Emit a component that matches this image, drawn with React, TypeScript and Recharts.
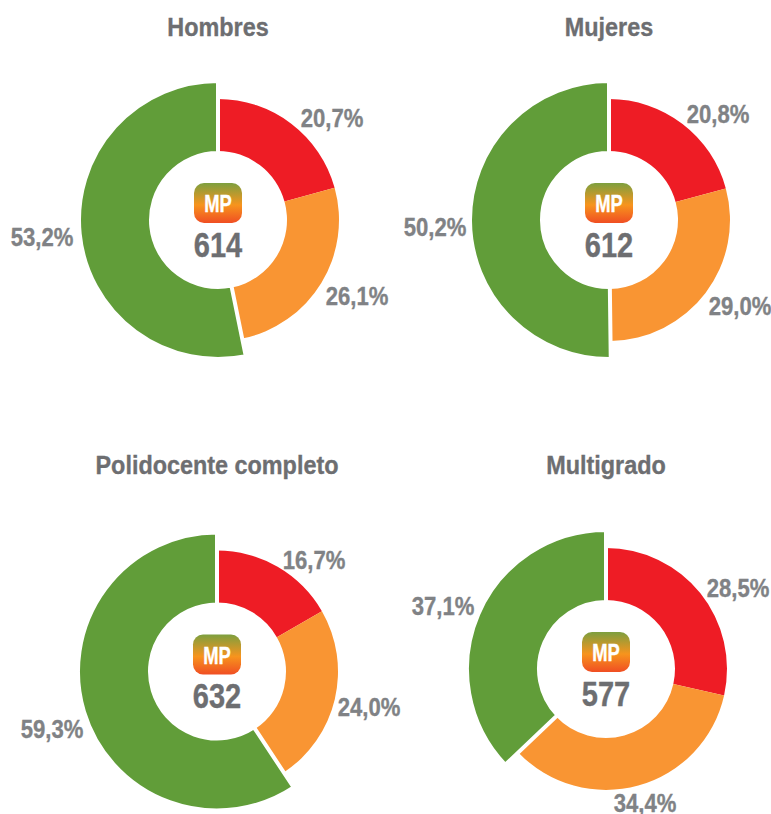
import { Pie, PieChart, Sector } from "recharts";

const categories = ["Bajo", "Medio", "Alto"];
const titles = ["Hombres", "Mujeres", "Polidocente completo", "Multigrado"];
const scores = [614, 612, 632, 577];
const hombres = [20.7, 26.1, 53.2];
const mujeres = [20.8, 29.0, 50.2];
const polidocente = [16.7, 24.0, 59.3];
const multigrado = [28.5, 34.4, 37.1];

const COLORS = ["#ee1c25", "#f99533", "#619d39"];
const FONT = "'Liberation Sans', sans-serif";

const toRows = (values: number[]) =>
  values.map((value, i) => ({ name: categories[i], value, fill: COLORS[i] }));

// cx, cy, title y, and where each percentage sits relative to the centre
const panels = [
  { values: hombres, cx: 218, cy: 220, titleY: 27, labels: [[114, -102], [139, 76], [-176, 17]] },
  { values: mujeres, cx: 609, cy: 220, titleY: 27, labels: [[109, -106], [131, 86], [-174, 7]] },
  { values: polidocente, cx: 217, cy: 671.5, titleY: 465, labels: [[97, -112], [152, 35], [-165, 57]] },
  { values: multigrado, cx: 606, cy: 669, titleY: 465, labels: [[132, -81], [39, 134], [-163, -63]] },
];

const renderSector = (props: any) => {
  if (props.name === categories[2]) {
    return <Sector {...props} innerRadius={67} outerRadius={139} stroke="#fff" strokeWidth={4} />;
  }
  return <Sector {...props} innerRadius={69} outerRadius={121} stroke="none" />;
};

// no narrow face installed, so squeeze the bold one horizontally
function Narrow({ x, y, size, fill, squeeze = 0.85, children }: any) {
  return (
    <text
      transform={`translate(${x} ${y}) scale(${squeeze} 1)`}
      textAnchor="middle"
      dominantBaseline="central"
      fontFamily={FONT}
      fontWeight={700}
      fontSize={size}
      fill={fill}
      stroke={fill}
      strokeWidth={0.35}
    >
      {children}
    </text>
  );
}

export default function App() {
  return (
    <div style={{ position: "absolute", left: 0, top: 0 }}>
      <PieChart width={771} height={814} margin={{ top: 0, right: 0, bottom: 0, left: 0 }}>
        <defs>
          <linearGradient id="badge" x1="0" y1="0" x2="0" y2="1">
            <stop offset="0%" stopColor="#7d9f3f" />
            <stop offset="55%" stopColor="#f7941d" />
            <stop offset="100%" stopColor="#f04e23" />
          </linearGradient>
        </defs>
        {panels.map((p, n) => (
          <Pie
            key={titles[n]}
            data={toRows(p.values)}
            dataKey="value"
            nameKey="name"
            cx={p.cx}
            cy={p.cy}
            innerRadius={69}
            outerRadius={121}
            startAngle={90}
            endAngle={-270}
            stroke="none"
            shape={renderSector}
            labelLine={false}
            isAnimationActive={false}
            label={({ index, value }: any) => (
              <Narrow
                x={p.cx + p.labels[index][0]}
                y={p.cy + p.labels[index][1]}
                size={26}
                squeeze={0.85}
                fill="#808285"
              >
                {value.toFixed(1).replace(".", ",")}%
              </Narrow>
            )}
          />
        ))}
        {panels.map((p, n) => (
          <g key={`center-${titles[n]}`}>
            <Narrow x={p.cx} y={p.titleY} size={26} squeeze={0.9} fill="#6d6e71">
              {titles[n]}
            </Narrow>
            <rect x={p.cx - 24} y={p.cy - 37} width={48} height={40} rx={10} fill="url(#badge)" />
            <Narrow x={p.cx} y={p.cy - 16} size={23} squeeze={0.8} fill="#fff">
              MP
            </Narrow>
            <Narrow x={p.cx} y={p.cy + 25} size={35} squeeze={0.83} fill="#6d6e71">
              {scores[n]}
            </Narrow>
          </g>
        ))}
      </PieChart>
    </div>
  );
}
